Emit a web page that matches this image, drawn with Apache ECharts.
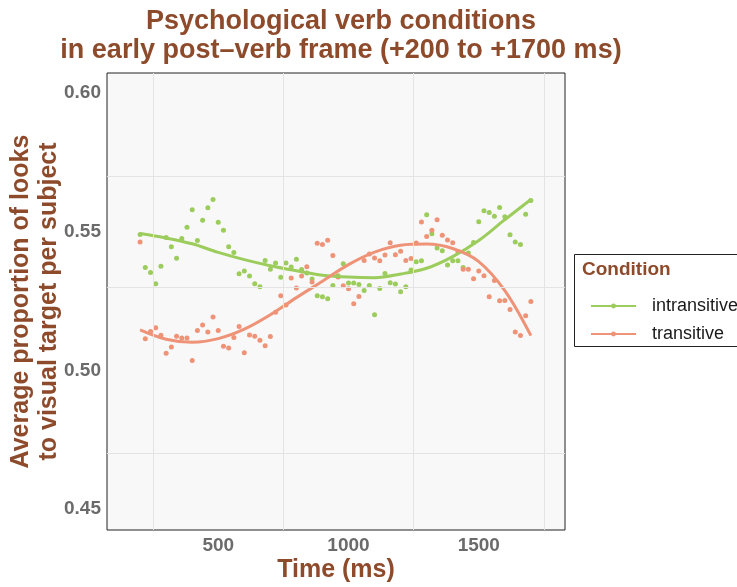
<!DOCTYPE html>
<html>
<head>
<meta charset="utf-8">
<title>Psychological verb conditions</title>
<script src="https://cdn.jsdelivr.net/npm/echarts@6.0.0/dist/echarts.min.js"></script>
<style>
  html, body { margin: 0; padding: 0; background: #ffffff; }
  #chart { width: 737px; height: 587px; }
</style>
</head>
<body>
<div id="chart"></div>
<script>
// Time bins (ms after verb onset), 20 ms apart
const timeBins = [
  200, 220, 240, 260, 280, 300, 320, 340, 360, 380, 400, 420, 440, 460, 480,
  500, 520, 540, 560, 580, 600, 620, 640, 660, 680, 700, 720, 740, 760, 780,
  800, 820, 840, 860, 880, 900, 920, 940, 960, 980, 1000, 1020, 1040, 1060, 1080,
  1100, 1120, 1140, 1160, 1180, 1200, 1220, 1240, 1260, 1280, 1300, 1320, 1340, 1360, 1380,
  1400, 1420, 1440, 1460, 1480, 1500, 1520, 1540, 1560, 1580, 1600, 1620, 1640, 1660, 1680, 1700
];

// Mean proportion of looks to the target, per bin
const intransitiveMeans = [
  0.5490, 0.5371, 0.5353, 0.5312, 0.5375, 0.5479, 0.5445, 0.5404, 0.5475, 0.5516, 0.5579, 0.5468, 0.5541, 0.5586, 0.5616,
  0.5534, 0.5505, 0.5445, 0.5425, 0.5348, 0.5358, 0.5340, 0.5312, 0.5301, 0.5396, 0.5364, 0.5387, 0.5335, 0.5387, 0.5372,
  0.5400, 0.5363, 0.5351, 0.5329, 0.5269, 0.5265, 0.5258, 0.5306, 0.5341, 0.5384, 0.5315, 0.5315, 0.5309, 0.5288, 0.5306,
  0.5200, 0.5295, 0.5349, 0.5316, 0.5311, 0.5283, 0.5301, 0.5362, 0.5391, 0.5395, 0.5561, 0.5492, 0.5441, 0.5431, 0.5380,
  0.5395, 0.5395, 0.5371, 0.5423, 0.5461, 0.5536, 0.5575, 0.5569, 0.5555, 0.5587, 0.5554, 0.5489, 0.5463, 0.5454, 0.5563, 0.5612
];
const transitiveMeans = [
  0.5463, 0.5114, 0.5140, 0.5153, 0.5126, 0.5061, 0.5084, 0.5123, 0.5116, 0.5116, 0.5035, 0.5143, 0.5163, 0.5138, 0.5192,
  0.5143, 0.5087, 0.5080, 0.5118, 0.5158, 0.5063, 0.5127, 0.5123, 0.5108, 0.5088, 0.5122, 0.5209, 0.5269, 0.5235, 0.5333,
  0.5297, 0.5340, 0.5373, 0.5318, 0.5458, 0.5454, 0.5469, 0.5414, 0.5336, 0.5305, 0.5294, 0.5240, 0.5266, 0.5396, 0.5419,
  0.5405, 0.5395, 0.5416, 0.5460, 0.5417, 0.5429, 0.5396, 0.5403, 0.5459, 0.5535, 0.5482, 0.5505, 0.5543, 0.5487, 0.5470,
  0.5460, 0.5428, 0.5364, 0.5364, 0.5330, 0.5358, 0.5341, 0.5265, 0.5324, 0.5251, 0.5252, 0.5219, 0.5138, 0.5125, 0.5197, 0.5248
];

// Smoothed trend for each condition, sampled every 100 ms
const trendTimes = [200, 300, 400, 500, 600, 700, 800, 900, 1000, 1100, 1200, 1300, 1400, 1500, 1600, 1700];
const intransitiveTrend = [0.5493, 0.5477, 0.5456, 0.5425, 0.5399, 0.5377, 0.5359, 0.5343, 0.5336, 0.5334, 0.5347, 0.5368, 0.5410, 0.5468, 0.5543, 0.5616];
const transitiveTrend   = [0.5146, 0.5112, 0.5101, 0.5114, 0.5148, 0.5200, 0.5262, 0.5321, 0.5381, 0.5426, 0.5451, 0.5455, 0.5439, 0.5392, 0.5287, 0.5125];

// Axis labels and background grid positions
const xTickValues = [500, 1000, 1500];
const yTickValues = [0.45, 0.50, 0.55, 0.60];
const xGridValues = [250, 750, 1250, 1750];
const yGridValues = [0.475, 0.525, 0.575];

const conditionNames = ['intransitive', 'transitive'];

const GREEN = '#9CCC5C';
const SALMON = '#EE9377';
const BROWN = '#8E4B2B';
const FONT = '"Liberation Sans", Arial, Helvetica, sans-serif';

const pairs = (xs, ys) => xs.map((x, i) => [x, ys[i]]);

const chart = echarts.init(document.getElementById('chart'), null, { renderer: 'canvas' });

const gridLineData = xGridValues.map(v => ({ xAxis: v }))
  .concat(yGridValues.map(v => ({ yAxis: v })));

chart.setOption({
  animation: false,
  backgroundColor: '#ffffff',
  textStyle: { fontFamily: FONT },
  title: {
    text: 'Psychological verb conditions\nin early post\u2013verb frame (+200 to +1700 ms)',
    left: 336,
    top: 2,
    textAlign: 'center',
    textStyle: {
      fontFamily: FONT, fontSize: 27, fontWeight: 'bold', color: BROWN, lineHeight: 29
    }
  },
  grid: {
    left: 107, top: 73, width: 458, height: 457,
    outerBoundsMode: 'none', containLabel: false,
    show: true, backgroundColor: '#F8F8F8', borderColor: '#222222', borderWidth: 1
  },
  xAxis: {
    type: 'value', min: 73, max: 1831,
    name: 'Time (ms)', nameLocation: 'middle', nameGap: 28, nameMoveOverlap: false,
    nameTextStyle: { fontFamily: FONT, fontSize: 25, fontWeight: 'bold', color: BROWN },
    axisLine: { show: false }, axisTick: { show: false }, splitLine: { show: false },
    axisLabel: {
      customValues: xTickValues, margin: 6,
      formatter: v => String(v),
      fontFamily: FONT, fontSize: 19, fontWeight: 'bold', color: '#6B6B6B'
    }
  },
  yAxis: {
    type: 'value', min: 0.4424, max: 0.6072,
    name: 'Average proportion of looks\nto visual target per subject',
    nameLocation: 'middle', nameRotate: 90, nameGap: 44, nameMoveOverlap: false,
    nameTextStyle: { fontFamily: FONT, fontSize: 25, fontWeight: 'bold', color: BROWN, lineHeight: 28 },
    axisLine: { show: false }, axisTick: { show: false }, splitLine: { show: false },
    axisLabel: {
      customValues: yTickValues, margin: 6,
      formatter: v => v.toFixed(2),
      fontFamily: FONT, fontSize: 19, fontWeight: 'bold', color: '#6B6B6B'
    }
  },
  legend: {
    data: conditionNames,
    orient: 'vertical', left: 585, top: 292,
    itemWidth: 45, itemHeight: 6, itemGap: 10,
    textStyle: { fontFamily: FONT, fontSize: 18, color: '#1A1A1A', padding: [0, 0, 0, 11] },
    selectedMode: false
  },
  graphic: [
    {
      type: 'rect', z: 0, silent: true,
      shape: { x: 574.5, y: 254.5, width: 200, height: 92 },
      style: { fill: '#FFFFFF', stroke: '#222222', lineWidth: 1 }
    },
    {
      type: 'text', z: 1, silent: true, left: 582, top: 260,
      style: { text: 'Condition', fontFamily: FONT, fontSize: 19, fontWeight: 'bold', fill: BROWN }
    }
  ],
  series: [
    {
      name: conditionNames[0], type: 'line', z: 3,
      data: pairs(trendTimes, intransitiveTrend),
      smooth: 0.35, symbol: 'circle', symbolSize: 5, showSymbol: false,
      lineStyle: { color: GREEN, width: 3 }, itemStyle: { color: GREEN },
      silent: true
    },
    {
      name: conditionNames[1], type: 'line', z: 3,
      data: pairs(trendTimes, transitiveTrend),
      smooth: 0.35, symbol: 'circle', symbolSize: 5, showSymbol: false,
      lineStyle: { color: SALMON, width: 3 }, itemStyle: { color: SALMON },
      silent: true
    },
    {
      name: conditionNames[0], type: 'scatter', z: 2,
      data: pairs(timeBins, intransitiveMeans),
      symbolSize: 5, itemStyle: { color: GREEN, opacity: 1 }, silent: true
    },
    {
      name: conditionNames[1], type: 'scatter', z: 2,
      data: pairs(timeBins, transitiveMeans),
      symbolSize: 5, itemStyle: { color: SALMON, opacity: 1 }, silent: true
    },
    {
      name: 'grid', type: 'line', z: 1, data: [], silent: true,
      markLine: {
        silent: true, symbol: ['none', 'none'], label: { show: false },
        lineStyle: { color: '#E4E4E4', type: 'solid', width: 1 },
        data: gridLineData
      }
    }
  ]
});
</script>
</body>
</html>
